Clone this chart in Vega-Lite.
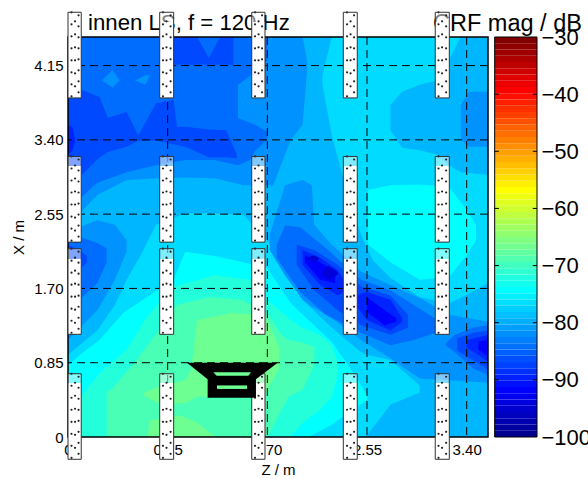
{"$schema":"https://vega.github.io/schema/vega-lite/v6.json","width":420,"height":400,"autosize":"none","padding":{"left":68,"top":37,"right":100,"bottom":42},"background":"white","config":{"view":{"stroke":null},"font":"Liberation Sans"},
"datasets":{
"contours":[
{"blob":"A","band":9,"z":0,"top":4.58,"bottom":0},{"blob":"A","band":9,"z":3.582,"top":4.58,"bottom":0},
{"blob":"L8","band":8,"z":0,"top":4.58,"bottom":2.35},{"blob":"L8","band":8,"z":0.1,"top":4.58,"bottom":2.56},{"blob":"L8","band":8,"z":0.25,"top":4.58,"bottom":2.77},{"blob":"L8","band":8,"z":0.5,"top":4.58,"bottom":2.94},{"blob":"L8","band":8,"z":0.75,"top":4.58,"bottom":2.96},{"blob":"L8","band":8,"z":1,"top":4.58,"bottom":2.97},{"blob":"L8","band":8,"z":1.25,"top":4.58,"bottom":2.96},{"blob":"L8","band":8,"z":1.5,"top":4.58,"bottom":2.88},{"blob":"L8","band":8,"z":1.75,"top":4.58,"bottom":2.88},{"blob":"L8","band":8,"z":1.9,"top":4.58,"bottom":3.4},{"blob":"L8","band":8,"z":2,"top":4.58,"bottom":3.57},{"blob":"L8","band":8,"z":2.04,"top":4.3,"bottom":4.2},
{"blob":"LL8","band":8,"z":0,"top":2.35,"bottom":1.11},{"blob":"LL8","band":8,"z":0.25,"top":2.48,"bottom":1.45},{"blob":"LL8","band":8,"z":0.4,"top":2.43,"bottom":1.8},{"blob":"LL8","band":8,"z":0.5,"top":2.25,"bottom":2.12},
{"blob":"LL7","band":7,"z":0,"top":2.35,"bottom":1.49},{"blob":"LL7","band":7,"z":0.12,"top":2.28,"bottom":1.6},{"blob":"LL7","band":7,"z":0.25,"top":2.22,"bottom":1.76},{"blob":"LL7","band":7,"z":0.33,"top":2.16,"bottom":2},
{"blob":"LL6","band":6,"z":0,"top":2.2,"bottom":1.85},{"blob":"LL6","band":6,"z":0.1,"top":2.14,"bottom":1.91},{"blob":"LL6","band":6,"z":0.16,"top":2.07,"bottom":2},
{"blob":"L7","band":7,"z":0,"top":4.58,"bottom":2.65},{"blob":"L7","band":7,"z":0.12,"top":4.58,"bottom":2.75},{"blob":"L7","band":7,"z":0.25,"top":4.58,"bottom":2.91},{"blob":"L7","band":7,"z":0.5,"top":4.58,"bottom":3.03},{"blob":"L7","band":7,"z":0.75,"top":4.58,"bottom":3.11},{"blob":"L7","band":7,"z":1,"top":4.58,"bottom":3.17},{"blob":"L7","band":7,"z":1.25,"top":4.58,"bottom":3.17},{"blob":"L7","band":7,"z":1.45,"top":4.58,"bottom":3.11},{"blob":"L7","band":7,"z":1.55,"top":4.58,"bottom":3.17},{"blob":"L7","band":7,"z":1.6,"top":4.58,"bottom":3.28},{"blob":"L7","band":7,"z":1.7,"top":4.58,"bottom":3.4},
{"blob":"N8","band":8,"z":1.45,"top":4.03,"bottom":3.65},{"blob":"N8","band":8,"z":1.6,"top":4.18,"bottom":3.57},{"blob":"N8","band":8,"z":1.7,"top":4.31,"bottom":3.49},
{"blob":"P1","band":8,"z":0.29,"top":4.08,"bottom":4.08},{"blob":"P1","band":8,"z":0.38,"top":4.2,"bottom":4},{"blob":"P1","band":8,"z":0.44,"top":4.08,"bottom":4.08},
{"blob":"P2","band":8,"z":0.57,"top":4.08,"bottom":4.08},{"blob":"P2","band":8,"z":0.66,"top":4.14,"bottom":4.03},{"blob":"P2","band":8,"z":0.7,"top":4.14,"bottom":4.14},
{"blob":"L6","band":6,"z":0,"top":3.99,"bottom":3},{"blob":"L6","band":6,"z":0.12,"top":3.97,"bottom":3},{"blob":"L6","band":6,"z":0.27,"top":3.89,"bottom":3.2},{"blob":"L6","band":6,"z":0.34,"top":3.65,"bottom":3.26},{"blob":"L6","band":6,"z":0.5,"top":3.72,"bottom":3.32},{"blob":"L6","band":6,"z":0.6,"top":3.45,"bottom":3.39},{"blob":"L6","band":6,"z":0.75,"top":3.82,"bottom":3.39},{"blob":"L6","band":6,"z":0.9,"top":3.86,"bottom":3.35},{"blob":"L6","band":6,"z":0.93,"top":3.55,"bottom":3.34},{"blob":"L6","band":6,"z":1,"top":3.55,"bottom":3.32},{"blob":"L6","band":6,"z":1.2,"top":3.52,"bottom":3.2},{"blob":"L6","band":6,"z":1.35,"top":3.51,"bottom":3.2},{"blob":"L6","band":6,"z":1.44,"top":3.23,"bottom":3.19},
{"blob":"L6b","band":6,"z":0.85,"top":4.58,"bottom":4.26},{"blob":"L6b","band":6,"z":1.1,"top":4.58,"bottom":4.26},{"blob":"L6b","band":6,"z":1.2,"top":4.34,"bottom":4.26},{"blob":"L6b","band":6,"z":1.3,"top":4.58,"bottom":4.26},{"blob":"L6b","band":6,"z":1.41,"top":4.58,"bottom":4.26},
{"blob":"L5","band":5,"z":0,"top":3.57,"bottom":3.23},{"blob":"L5","band":5,"z":0.04,"top":3.54,"bottom":3.28},{"blob":"L5","band":5,"z":0.06,"top":3.4,"bottom":3.38},
{"blob":"T10","band":10,"z":2.17,"top":4.14,"bottom":4.03},{"blob":"T10","band":10,"z":2.25,"top":4.58,"bottom":3.45},{"blob":"T10","band":10,"z":2.4,"top":4.58,"bottom":2.71},{"blob":"T10","band":10,"z":2.5,"top":4.58,"bottom":2.31},{"blob":"T10","band":10,"z":2.6,"top":4.58,"bottom":2.02},{"blob":"T10","band":10,"z":2.75,"top":4.58,"bottom":1.82},{"blob":"T10","band":10,"z":3,"top":4.58,"bottom":1.6},{"blob":"T10","band":10,"z":3.25,"top":4.58,"bottom":1.53},{"blob":"T10","band":10,"z":3.35,"top":4.58,"bottom":1.59},{"blob":"T10","band":10,"z":3.582,"top":4.58,"bottom":1.76},
{"blob":"D9","band":9,"z":2.75,"top":3.8,"bottom":3.51},{"blob":"D9","band":9,"z":2.85,"top":3.95,"bottom":3.31},{"blob":"D9","band":9,"z":3,"top":4.03,"bottom":3.28},{"blob":"D9","band":9,"z":3.15,"top":4.08,"bottom":3.23},{"blob":"D9","band":9,"z":3.25,"top":4.31,"bottom":3.11},{"blob":"D9","band":9,"z":3.35,"top":4.58,"bottom":3.03},{"blob":"D9","band":9,"z":3.582,"top":4.58,"bottom":3},
{"blob":"R8","band":8,"z":3.35,"top":3.8,"bottom":3.4},{"blob":"R8","band":8,"z":3.42,"top":3.95,"bottom":3.32},{"blob":"R8","band":8,"z":3.582,"top":3.95,"bottom":3.32},
{"blob":"T11","band":11,"z":2.56,"top":2.83,"bottom":2.2},{"blob":"T11","band":11,"z":2.75,"top":2.88,"bottom":2},{"blob":"T11","band":11,"z":3,"top":2.89,"bottom":1.8},{"blob":"T11","band":11,"z":3.25,"top":2.86,"bottom":1.83},{"blob":"T11","band":11,"z":3.4,"top":2.6,"bottom":2.08},{"blob":"T11","band":11,"z":3.48,"top":2.43,"bottom":2.25},
{"blob":"H10","band":10,"z":0,"top":0.94,"bottom":0},{"blob":"H10","band":10,"z":0.25,"top":1.22,"bottom":0},{"blob":"H10","band":10,"z":0.4,"top":1.51,"bottom":0},{"blob":"H10","band":10,"z":0.5,"top":1.8,"bottom":0},{"blob":"H10","band":10,"z":0.62,"top":2.08,"bottom":0},{"blob":"H10","band":10,"z":0.75,"top":2.43,"bottom":0},{"blob":"H10","band":10,"z":1,"top":2.56,"bottom":0},{"blob":"H10","band":10,"z":1.25,"top":2.56,"bottom":0},{"blob":"H10","band":10,"z":1.5,"top":2.54,"bottom":0},{"blob":"H10","band":10,"z":1.75,"top":2.17,"bottom":0},{"blob":"H10","band":10,"z":2,"top":1.57,"bottom":0},{"blob":"H10","band":10,"z":2.25,"top":1.25,"bottom":0},{"blob":"H10","band":10,"z":2.5,"top":0.97,"bottom":0},{"blob":"H10","band":10,"z":2.55,"top":0.94,"bottom":0.02},{"blob":"H10","band":10,"z":2.75,"top":0.88,"bottom":0.37},{"blob":"H10","band":10,"z":3,"top":0.59,"bottom":0.51},
{"blob":"H11","band":11,"z":0,"top":0.82,"bottom":0},{"blob":"H11","band":11,"z":0.12,"top":0.96,"bottom":0},{"blob":"H11","band":11,"z":0.27,"top":1.11,"bottom":0},{"blob":"H11","band":11,"z":0.47,"top":1.42,"bottom":0},{"blob":"H11","band":11,"z":0.67,"top":1.6,"bottom":0},{"blob":"H11","band":11,"z":0.9,"top":1.8,"bottom":0},{"blob":"H11","band":11,"z":1,"top":2.12,"bottom":0},{"blob":"H11","band":11,"z":1.25,"top":2.07,"bottom":0},{"blob":"H11","band":11,"z":1.5,"top":2,"bottom":0},{"blob":"H11","band":11,"z":1.7,"top":1.93,"bottom":0},{"blob":"H11","band":11,"z":1.9,"top":1.53,"bottom":0},{"blob":"H11","band":11,"z":2.05,"top":1.34,"bottom":0},{"blob":"H11","band":11,"z":2.25,"top":1.09,"bottom":0.14},{"blob":"H11","band":11,"z":2.4,"top":0.8,"bottom":0.29},{"blob":"H11","band":11,"z":2.55,"top":0.48,"bottom":0.42},
{"blob":"H12","band":12,"z":0.1,"top":0.45,"bottom":0},{"blob":"H12","band":12,"z":0.27,"top":0.73,"bottom":0},{"blob":"H12","band":12,"z":0.5,"top":1,"bottom":0},{"blob":"H12","band":12,"z":0.67,"top":1.37,"bottom":0},{"blob":"H12","band":12,"z":0.9,"top":1.72,"bottom":0},{"blob":"H12","band":12,"z":1.25,"top":1.85,"bottom":0},{"blob":"H12","band":12,"z":1.55,"top":1.8,"bottom":0},{"blob":"H12","band":12,"z":1.7,"top":1.57,"bottom":0},{"blob":"H12","band":12,"z":1.9,"top":1.34,"bottom":0},{"blob":"H12","band":12,"z":2,"top":1.25,"bottom":0.16},{"blob":"H12","band":12,"z":2.15,"top":1.17,"bottom":0.31},{"blob":"H12","band":12,"z":2.25,"top":1.05,"bottom":0.46},{"blob":"H12","band":12,"z":2.3,"top":0.85,"bottom":0.71},
{"blob":"H13","band":13,"z":0.33,"top":0.51,"bottom":0},{"blob":"H13","band":13,"z":0.38,"top":0.56,"bottom":0},{"blob":"H13","band":13,"z":0.55,"top":0.82,"bottom":0},{"blob":"H13","band":13,"z":0.73,"top":1.14,"bottom":0},{"blob":"H13","band":13,"z":0.93,"top":1.51,"bottom":0},{"blob":"H13","band":13,"z":1.2,"top":1.6,"bottom":0},{"blob":"H13","band":13,"z":1.48,"top":1.57,"bottom":0},{"blob":"H13","band":13,"z":1.7,"top":1.42,"bottom":0},{"blob":"H13","band":13,"z":1.82,"top":1.17,"bottom":0.31},{"blob":"H13","band":13,"z":1.88,"top":1.11,"bottom":0.46},{"blob":"H13","band":13,"z":2,"top":1.08,"bottom":0.54},{"blob":"H13","band":13,"z":2.1,"top":1.03,"bottom":0.82},
{"blob":"H14","band":14,"z":0.65,"top":0.51,"bottom":0.47},{"blob":"H14","band":14,"z":0.8,"top":0.59,"bottom":0.37},{"blob":"H14","band":14,"z":1,"top":0.65,"bottom":0.39},{"blob":"H14","band":14,"z":1.05,"top":0.77,"bottom":0.42},{"blob":"H14","band":14,"z":1.1,"top":1.34,"bottom":0.46},{"blob":"H14","band":14,"z":1.18,"top":1.36,"bottom":0.46},{"blob":"H14","band":14,"z":1.4,"top":1.42,"bottom":0.48},{"blob":"H14","band":14,"z":1.6,"top":1.4,"bottom":0.48},{"blob":"H14","band":14,"z":1.7,"top":1.34,"bottom":0.54},{"blob":"H14","band":14,"z":1.8,"top":1.03,"bottom":0.79},
{"blob":"H14b","band":14,"z":0.68,"top":0.02,"bottom":0},{"blob":"H14b","band":14,"z":0.7,"top":0.19,"bottom":0},{"blob":"H14b","band":14,"z":0.95,"top":0.25,"bottom":0},{"blob":"H14b","band":14,"z":1.1,"top":0.17,"bottom":0},{"blob":"H14b","band":14,"z":1.25,"top":0.01,"bottom":0},
{"blob":"S8","band":8,"z":1.72,"top":2.31,"bottom":2.14},{"blob":"S8","band":8,"z":1.85,"top":2.88,"bottom":1.85},{"blob":"S8","band":8,"z":2,"top":2.94,"bottom":1.57},{"blob":"S8","band":8,"z":2.08,"top":2.88,"bottom":1.49},{"blob":"S8","band":8,"z":2.1,"top":2.43,"bottom":1.48},{"blob":"S8","band":8,"z":2.25,"top":2.2,"bottom":1.36},{"blob":"S8","band":8,"z":2.5,"top":1.89,"bottom":1.11},{"blob":"S8","band":8,"z":2.75,"top":1.74,"bottom":0.9},{"blob":"S8","band":8,"z":3,"top":1.59,"bottom":0.67},{"blob":"S8","band":8,"z":3.25,"top":1.4,"bottom":0.65},{"blob":"S8","band":8,"z":3.5,"top":1.34,"bottom":0.63},{"blob":"S8","band":8,"z":3.582,"top":1.32,"bottom":0.62},
{"blob":"S7","band":7,"z":1.78,"top":2.2,"bottom":2.05},{"blob":"S7","band":7,"z":1.85,"top":2.42,"bottom":1.91},{"blob":"S7","band":7,"z":1.98,"top":2.4,"bottom":1.66},{"blob":"S7","band":7,"z":2.2,"top":2.16,"bottom":1.4},{"blob":"S7","band":7,"z":2.5,"top":1.8,"bottom":1.19},{"blob":"S7","band":7,"z":2.75,"top":1.68,"bottom":1.05},{"blob":"S7","band":7,"z":2.95,"top":1.51,"bottom":1.11},{"blob":"S7","band":7,"z":3.15,"top":1.34,"bottom":1.2},{"blob":"S7","band":7,"z":3.25,"top":1.28,"bottom":1.25},
{"blob":"S7b","band":7,"z":3.22,"top":1.07,"bottom":1.05},{"blob":"S7b","band":7,"z":3.3,"top":1.17,"bottom":0.97},{"blob":"S7b","band":7,"z":3.45,"top":1.25,"bottom":0.79},{"blob":"S7b","band":7,"z":3.582,"top":1.28,"bottom":0.71},
{"blob":"S6","band":6,"z":1.95,"top":2.2,"bottom":1.97},{"blob":"S6","band":6,"z":2.1,"top":2.14,"bottom":1.68},{"blob":"S6","band":6,"z":2.3,"top":1.97,"bottom":1.45},{"blob":"S6","band":6,"z":2.5,"top":1.72,"bottom":1.28},{"blob":"S6","band":6,"z":2.75,"top":1.62,"bottom":1.17},{"blob":"S6","band":6,"z":2.9,"top":1.4,"bottom":1.25},
{"blob":"S6b","band":6,"z":3.32,"top":1.13,"bottom":0.99},{"blob":"S6b","band":6,"z":3.45,"top":1.19,"bottom":0.88},{"blob":"S6b","band":6,"z":3.582,"top":1.22,"bottom":0.77},
{"blob":"S5","band":5,"z":2,"top":2.14,"bottom":1.97},{"blob":"S5","band":5,"z":2.15,"top":2.05,"bottom":1.74},{"blob":"S5","band":5,"z":2.3,"top":1.91,"bottom":1.62},{"blob":"S5","band":5,"z":2.38,"top":1.74,"bottom":1.68},
{"blob":"S5c","band":5,"z":2.45,"top":1.62,"bottom":1.51},{"blob":"S5c","band":5,"z":2.55,"top":1.66,"bottom":1.34},{"blob":"S5c","band":5,"z":2.75,"top":1.57,"bottom":1.22},{"blob":"S5c","band":5,"z":2.85,"top":1.36,"bottom":1.32},
{"blob":"S5b","band":5,"z":3.4,"top":1.11,"bottom":1.02},{"blob":"S5b","band":5,"z":3.5,"top":1.14,"bottom":0.94},{"blob":"S5b","band":5,"z":3.582,"top":1.17,"bottom":0.86},
{"blob":"S4","band":4,"z":2.02,"top":2.08,"bottom":2},{"blob":"S4","band":4,"z":2.15,"top":2.0,"bottom":1.8},{"blob":"S4","band":4,"z":2.28,"top":1.89,"bottom":1.76},
{"blob":"S4c","band":4,"z":2.55,"top":1.6,"bottom":1.43},{"blob":"S4c","band":4,"z":2.7,"top":1.45,"bottom":1.28},{"blob":"S4c","band":4,"z":2.8,"top":1.36,"bottom":1.32},
{"blob":"S4b","band":4,"z":3.5,"top":1.09,"bottom":1},{"blob":"S4b","band":4,"z":3.582,"top":1.11,"bottom":0.92},
{"blob":"S3","band":3,"z":2.17,"top":1.9,"bottom":1.85},{"blob":"S3","band":3,"z":2.22,"top":1.96,"bottom":1.8},{"blob":"S3","band":3,"z":2.3,"top":1.89,"bottom":1.86},
{"blob":"S3b","band":3,"z":2.04,"top":2.05,"bottom":2.03},{"blob":"S3b","band":3,"z":2.1,"top":2.08,"bottom":2},{"blob":"S3b","band":3,"z":2.14,"top":2.05,"bottom":2.03}
],
"walls":[
{"z0":0,"z1":0.113,"t":4.86,"s":4.75,"b":3.88,"d1":0.03,"d2":0.06,"d3":0.09},{"z0":0.782,"z1":0.901,"t":4.86,"s":4.75,"b":3.88,"d1":0.81,"d2":0.84,"d3":0.875},{"z0":1.567,"z1":1.68,"t":4.86,"s":4.75,"b":3.88,"d1":1.595,"d2":1.625,"d3":1.655},{"z0":2.348,"z1":2.467,"t":4.86,"s":4.75,"b":3.88,"d1":2.38,"d2":2.41,"d3":2.44},{"z0":3.132,"z1":3.252,"t":4.86,"s":4.75,"b":3.88,"d1":3.16,"d2":3.19,"d3":3.225},
{"z0":0,"z1":0.113,"t":3.21,"s":3.1,"b":2.23,"d1":0.03,"d2":0.06,"d3":0.09},{"z0":0.782,"z1":0.901,"t":3.21,"s":3.1,"b":2.23,"d1":0.81,"d2":0.84,"d3":0.875},{"z0":1.567,"z1":1.68,"t":3.21,"s":3.1,"b":2.23,"d1":1.595,"d2":1.625,"d3":1.655},{"z0":2.348,"z1":2.467,"t":3.21,"s":3.1,"b":2.23,"d1":2.38,"d2":2.41,"d3":2.44},{"z0":3.132,"z1":3.252,"t":3.21,"s":3.1,"b":2.23,"d1":3.16,"d2":3.19,"d3":3.225},
{"z0":0,"z1":0.113,"t":2.155,"s":2.04,"b":1.175,"d1":0.03,"d2":0.06,"d3":0.09},{"z0":0.782,"z1":0.901,"t":2.155,"s":2.04,"b":1.175,"d1":0.81,"d2":0.84,"d3":0.875},{"z0":1.567,"z1":1.68,"t":2.155,"s":2.04,"b":1.175,"d1":1.595,"d2":1.625,"d3":1.655},{"z0":2.348,"z1":2.467,"t":2.155,"s":2.04,"b":1.175,"d1":2.38,"d2":2.41,"d3":2.44},{"z0":3.132,"z1":3.252,"t":2.155,"s":2.04,"b":1.175,"d1":3.16,"d2":3.19,"d3":3.225},
{"z0":0,"z1":0.113,"t":0.724,"s":0.618,"b":-0.255,"d1":0.03,"d2":0.06,"d3":0.09},{"z0":0.782,"z1":0.901,"t":0.724,"s":0.618,"b":-0.255,"d1":0.81,"d2":0.84,"d3":0.875},{"z0":1.567,"z1":1.68,"t":0.724,"s":0.618,"b":-0.255,"d1":1.595,"d2":1.625,"d3":1.655},{"z0":2.348,"z1":2.467,"t":0.724,"s":0.618,"b":-0.255,"d1":2.38,"d2":2.41,"d3":2.44},{"z0":3.132,"z1":3.252,"t":0.724,"s":0.618,"b":-0.255,"d1":3.16,"d2":3.19,"d3":3.225}
],
"speaker":[
{"part":"horn","z":1.015,"top":0.85,"bottom":0.85},{"part":"horn","z":1.191,"top":0.85,"bottom":0.66},{"part":"horn","z":1.603,"top":0.85,"bottom":0.66},{"part":"horn","z":1.788,"top":0.85,"bottom":0.85},
{"part":"box","z":1.191,"top":0.67,"bottom":0.45},{"part":"box","z":1.603,"top":0.67,"bottom":0.45}
],
"speakerHoles":[
{"part":"upper","z":1.24,"top":0.74,"bottom":0.74},{"part":"upper","z":1.268,"top":0.74,"bottom":0.7},{"part":"upper","z":1.538,"top":0.74,"bottom":0.7},{"part":"upper","z":1.561,"top":0.74,"bottom":0.74},
{"part":"lower","z":1.271,"top":0.59,"bottom":0.55},{"part":"lower","z":1.527,"top":0.59,"bottom":0.55}
],
"scaleBands":[
{"step":1,"lo":-100,"hi":-98.906},{"step":2,"lo":-98.906,"hi":-97.812},{"step":3,"lo":-97.812,"hi":-96.719},{"step":4,"lo":-96.719,"hi":-95.625},{"step":5,"lo":-95.625,"hi":-94.531},{"step":6,"lo":-94.531,"hi":-93.438},{"step":7,"lo":-93.438,"hi":-92.344},{"step":8,"lo":-92.344,"hi":-91.25},{"step":9,"lo":-91.25,"hi":-90.156},{"step":10,"lo":-90.156,"hi":-89.062},{"step":11,"lo":-89.062,"hi":-87.969},{"step":12,"lo":-87.969,"hi":-86.875},{"step":13,"lo":-86.875,"hi":-85.781},{"step":14,"lo":-85.781,"hi":-84.688},{"step":15,"lo":-84.688,"hi":-83.594},{"step":16,"lo":-83.594,"hi":-82.5},
{"step":17,"lo":-82.5,"hi":-81.406},{"step":18,"lo":-81.406,"hi":-80.312},{"step":19,"lo":-80.312,"hi":-79.219},{"step":20,"lo":-79.219,"hi":-78.125},{"step":21,"lo":-78.125,"hi":-77.031},{"step":22,"lo":-77.031,"hi":-75.938},{"step":23,"lo":-75.938,"hi":-74.844},{"step":24,"lo":-74.844,"hi":-73.75},{"step":25,"lo":-73.75,"hi":-72.656},{"step":26,"lo":-72.656,"hi":-71.562},{"step":27,"lo":-71.562,"hi":-70.469},{"step":28,"lo":-70.469,"hi":-69.375},{"step":29,"lo":-69.375,"hi":-68.281},{"step":30,"lo":-68.281,"hi":-67.188},{"step":31,"lo":-67.188,"hi":-66.094},{"step":32,"lo":-66.094,"hi":-65},
{"step":33,"lo":-65,"hi":-63.906},{"step":34,"lo":-63.906,"hi":-62.812},{"step":35,"lo":-62.812,"hi":-61.719},{"step":36,"lo":-61.719,"hi":-60.625},{"step":37,"lo":-60.625,"hi":-59.531},{"step":38,"lo":-59.531,"hi":-58.438},{"step":39,"lo":-58.438,"hi":-57.344},{"step":40,"lo":-57.344,"hi":-56.25},{"step":41,"lo":-56.25,"hi":-55.156},{"step":42,"lo":-55.156,"hi":-54.062},{"step":43,"lo":-54.062,"hi":-52.969},{"step":44,"lo":-52.969,"hi":-51.875},{"step":45,"lo":-51.875,"hi":-50.781},{"step":46,"lo":-50.781,"hi":-49.688},{"step":47,"lo":-49.688,"hi":-48.594},{"step":48,"lo":-48.594,"hi":-47.5},
{"step":49,"lo":-47.5,"hi":-46.406},{"step":50,"lo":-46.406,"hi":-45.312},{"step":51,"lo":-45.312,"hi":-44.219},{"step":52,"lo":-44.219,"hi":-43.125},{"step":53,"lo":-43.125,"hi":-42.031},{"step":54,"lo":-42.031,"hi":-40.938},{"step":55,"lo":-40.938,"hi":-39.844},{"step":56,"lo":-39.844,"hi":-38.75},{"step":57,"lo":-38.75,"hi":-37.656},{"step":58,"lo":-37.656,"hi":-36.562},{"step":59,"lo":-36.562,"hi":-35.469},{"step":60,"lo":-35.469,"hi":-34.375},{"step":61,"lo":-34.375,"hi":-33.281},{"step":62,"lo":-33.281,"hi":-32.188},{"step":63,"lo":-32.188,"hi":-31.094},{"step":64,"lo":-31.094,"hi":-30}
],
"scaleTicks":[{"dB":-40},{"dB":-50},{"dB":-60},{"dB":-70},{"dB":-80},{"dB":-90}]
},
"layer":[
{"layer":[
{"data":{"name":"contours"},"mark":{"type":"area","orient":"vertical","clip":true},"encoding":{
"x":{"field":"z","type":"quantitative","scale":{"domain":[0,3.582],"nice":false,"zero":false},"title":"Z / m","axis":{"values":[0,0.85,1.7,2.55,3.4],"labelExpr":"datum.value==0?'0':format(datum.value,'.2f')","grid":false,"ticks":false,"domain":false,"labelFontSize":15,"labelColor":"black","labelPadding":5,"labelFlush":false,"labelOverlap":false,"titleFontSize":15,"titleFontWeight":"normal","titleColor":"black","titlePadding":5,"titleFont":"Liberation Sans","labelFont":"Liberation Sans"}},
"y":{"field":"top","type":"quantitative","stack":null,"scale":{"domain":[0,4.577],"nice":false,"zero":false},"title":"X / m","axis":{"values":[0,0.85,1.7,2.55,3.4,4.25],"labelExpr":"datum.value==0?'0':datum.value>4.2?'4.15':format(datum.value,'.2f')","grid":false,"ticks":false,"domain":false,"labelFontSize":15,"labelColor":"black","labelPadding":5,"labelOverlap":false,"labelFlush":false,"titleFontSize":15,"titleFontWeight":"normal","titleColor":"black","titlePadding":7,"titleFont":"Liberation Sans","labelFont":"Liberation Sans"}},
"y2":{"field":"bottom"},
"detail":{"field":"blob","type":"nominal"},
"color":{"field":"band","type":"ordinal","legend":null,"scale":{"domain":[3,4,5,6,7,8,9,10,11,12,13,14],"range":["#0000DB","#0000FF","#0024FF","#0049FF","#006DFF","#0092FF","#00B6FF","#00DBFF","#00FFFF","#24FFDB","#49FFB6","#6DFF92"]}}
}},
{"data":{"values":[{"z":0.85},{"z":1.7},{"z":2.55},{"z":3.4}]},"mark":{"type":"rule","stroke":"black","strokeWidth":1,"strokeDash":[8,5]},"encoding":{"x":{"field":"z","type":"quantitative"}}},
{"data":{"values":[{"x":0.85},{"x":1.7},{"x":2.55},{"x":3.4},{"x":4.25}]},"mark":{"type":"rule","stroke":"black","strokeWidth":1,"strokeDash":[8,5]},"encoding":{"y":{"field":"x","type":"quantitative"}}},
{"data":{"values":[{"z0":0,"z1":3.582,"x0":0,"x1":4.577}]},"mark":{"type":"rect","fillOpacity":0,"stroke":"black","strokeWidth":1.5},"encoding":{"x":{"field":"z0","type":"quantitative"},"x2":{"field":"z1"},"y":{"field":"x0","type":"quantitative"},"y2":{"field":"x1"}}},
{"data":{"values":[{"label":"innen LS, f = 120 Hz","z":0.171,"x":4.657}]},"mark":{"type":"text","align":"left","baseline":"alphabetic","fontSize":22.2,"font":"Liberation Sans","color":"black"},"encoding":{"x":{"field":"z","type":"quantitative"},"y":{"field":"x","type":"quantitative"},"text":{"field":"label"}}},
{"data":{"values":[{"label":"CRF mag / dB","z":4.383,"x":4.65}]},"mark":{"type":"text","align":"right","baseline":"alphabetic","fontSize":23.5,"font":"Liberation Sans","color":"black"},"encoding":{"x":{"field":"z","type":"quantitative"},"y":{"field":"x","type":"quantitative"},"text":{"field":"label"}}},
{"data":{"name":"walls"},"mark":{"type":"rect","fill":"white"},"encoding":{"x":{"field":"z0","type":"quantitative"},"x2":{"field":"z1"},"y":{"field":"s","type":"quantitative"},"y2":{"field":"b"}}},
{"data":{"name":"walls"},"mark":{"type":"rect","fill":"white","fillOpacity":0.5},"encoding":{"x":{"field":"z0","type":"quantitative"},"x2":{"field":"z1"},"y":{"field":"t","type":"quantitative"},"y2":{"field":"s"}}},
{"data":{"name":"walls"},"mark":{"type":"rule","stroke":"#222222","strokeWidth":2.2,"strokeCap":"round","strokeDash":[0.01,12]},"encoding":{"x":{"field":"d1","type":"quantitative"},"y":{"field":"t","type":"quantitative"},"y2":{"field":"b"}}},
{"data":{"name":"walls"},"mark":{"type":"rule","stroke":"#222222","strokeWidth":2.2,"strokeCap":"round","strokeDash":[0.01,13],"strokeDashOffset":4},"encoding":{"x":{"field":"d2","type":"quantitative"},"y":{"field":"t","type":"quantitative"},"y2":{"field":"b"}}},
{"data":{"name":"walls"},"mark":{"type":"rule","stroke":"#222222","strokeWidth":2.2,"strokeCap":"round","strokeDash":[0.01,11],"strokeDashOffset":8},"encoding":{"x":{"field":"d3","type":"quantitative"},"y":{"field":"t","type":"quantitative"},"y2":{"field":"b"}}},
{"data":{"name":"walls"},"mark":{"type":"rect","fillOpacity":0,"stroke":"#333333","strokeWidth":1},"encoding":{"x":{"field":"z0","type":"quantitative"},"x2":{"field":"z1"},"y":{"field":"t","type":"quantitative"},"y2":{"field":"b"}}},
{"data":{"name":"speaker"},"mark":{"type":"area","orient":"vertical","fill":"black"},"encoding":{"x":{"field":"z","type":"quantitative"},"y":{"field":"top","type":"quantitative","stack":null},"y2":{"field":"bottom"},"detail":{"field":"part","type":"nominal"}}},
{"data":{"name":"speakerHoles"},"mark":{"type":"area","orient":"vertical","fill":"#6DFF92"},"encoding":{"x":{"field":"z","type":"quantitative"},"y":{"field":"top","type":"quantitative","stack":null},"y2":{"field":"bottom"},"detail":{"field":"part","type":"nominal"}}}
]},
{"layer":[
{"data":{"name":"scaleBands"},"mark":{"type":"rect"},"encoding":{"x":{"datum":3.639,"type":"quantitative"},"x2":{"datum":4.0},"y":{"field":"lo","type":"quantitative","scale":{"domain":[-100,-30],"nice":false,"zero":false},"axis":{"orient":"right","offset":49,"values":[-30,-40,-50,-60,-70,-80,-90,-100],"title":null,"ticks":false,"domain":false,"grid":false,"labelFontSize":22,"labelColor":"black","labelPadding":4,"labelOverlap":false,"labelFlush":false,"labelFont":"Liberation Sans"}},"y2":{"field":"hi"},"color":{"field":"step","type":"ordinal","legend":null,"scale":{"domain":[1,2,3,4,5,6,7,8,9,10,11,12,13,14,15,16,17,18,19,20,21,22,23,24,25,26,27,28,29,30,31,32,33,34,35,36,37,38,39,40,41,42,43,44,45,46,47,48,49,50,51,52,53,54,55,56,57,58,59,60,61,62,63,64],"range":["#00008F","#00009F","#0000AF","#0000BF","#0000CF","#0000DF","#0000EF","#0000FF","#0010FF","#0020FF","#0030FF","#0040FF","#0050FF","#0060FF","#0070FF","#0080FF","#008FFF","#009FFF","#00AFFF","#00BFFF","#00CFFF","#00DFFF","#00EFFF","#00FFFF","#10FFEF","#20FFDF","#30FFCF","#40FFBF","#50FFAF","#60FF9F","#70FF8F","#80FF80","#8FFF70","#9FFF60","#AFFF50","#BFFF40","#CFFF30","#DFFF20","#EFFF10","#FFFF00","#FFEF00","#FFDF00","#FFCF00","#FFBF00","#FFAF00","#FF9F00","#FF8F00","#FF8000","#FF7000","#FF6000","#FF5000","#FF4000","#FF3000","#FF2000","#FF1000","#FF0000","#EF0000","#DF0000","#CF0000","#BF0000","#AF0000","#9F0000","#8F0000","#800000"]}}}},
{"data":{"values":[{"lo":-100,"hi":-30}]},"mark":{"type":"rect","fillOpacity":0,"stroke":"black","strokeWidth":1},"encoding":{"x":{"datum":3.639,"type":"quantitative"},"x2":{"datum":4.0},"y":{"field":"lo","type":"quantitative"},"y2":{"field":"hi"}}},
{"data":{"name":"scaleTicks"},"mark":{"type":"rule","stroke":"black"},"encoding":{"x":{"datum":3.639,"type":"quantitative"},"x2":{"datum":3.675},"y":{"field":"dB","type":"quantitative"}}},
{"data":{"name":"scaleTicks"},"mark":{"type":"rule","stroke":"black"},"encoding":{"x":{"datum":3.964,"type":"quantitative"},"x2":{"datum":4.0},"y":{"field":"dB","type":"quantitative"}}}
]}
],
"resolve":{"scale":{"y":"independent","color":"independent"},"axis":{"y":"independent"}}
}
